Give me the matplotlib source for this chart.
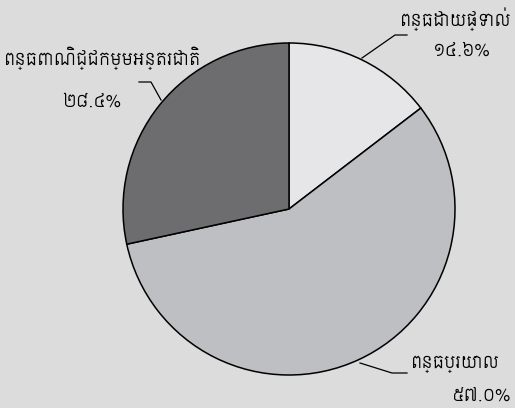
import numpy as np
import matplotlib
matplotlib.use('Agg')
import matplotlib.pyplot as plt

# data
labels = ['ពន្ធដោយផ្ទាល់', 'ពន្ធប្រយោល', 'ពន្ធពាណិជ្ជកម្មអន្តរជាតិ']
values = [14.6, 57.0, 28.4]
value_text = ['១៤.៦%', '៥៧.០%', '២៨.៤%']
colors = ['#e6e6e8', '#bebfc2', '#6d6d6f']

fams = ['Siemreap', 'DejaVu Sans']

W, H = 515, 408
fig = plt.figure(figsize=(W / 100, H / 100), dpi=100)
fig.patch.set_facecolor('#dcdcdd')
# pie centre (289,209), radius 166 px
r = 166
ax = fig.add_axes([(289 - r) / W, 1 - (209 + r) / H, 2 * r / W, 2 * r / H])
ax.set_facecolor('none')
ax.pie(values, colors=colors, startangle=90, counterclock=False,
       wedgeprops=dict(edgecolor='black', linewidth=1.1))
ax.set_aspect('equal')
ax.set_xlim(-1, 1)
ax.set_ylim(-1, 1)
ax.axis('off')

def px(x, y):
    return x / W, 1 - y / H

# leader lines
leaders = [
    [(362, 58), (395, 35), (407, 35)],
    [(360, 363), (392, 373), (407, 373)],
    [(161, 100), (151, 82), (139, 82)],
]
for pts in leaders:
    xs, ys = zip(*[px(x, y) for x, y in pts])
    fig.add_artist(plt.Line2D(xs, ys, color='black', lw=0.9, transform=fig.transFigure))

# labels
label_pos = [(512, 19, 'right'), (411, 364, 'left'), (4, 58, 'left')]
num_pos = [(462, 51, 'center'), (482, 396, 'center'), (92, 102, 'center')]
for i in range(3):
    x, y, ha = label_pos[i]
    fig.text(*px(x, y), labels[i], ha=ha, va='center', fontsize=12, family=fams)
    x, y, ha = num_pos[i]
    fig.text(*px(x, y), value_text[i], ha=ha, va='center', fontsize=12, family=fams)

fig.savefig('out.png', dpi=100, facecolor=fig.get_facecolor())
